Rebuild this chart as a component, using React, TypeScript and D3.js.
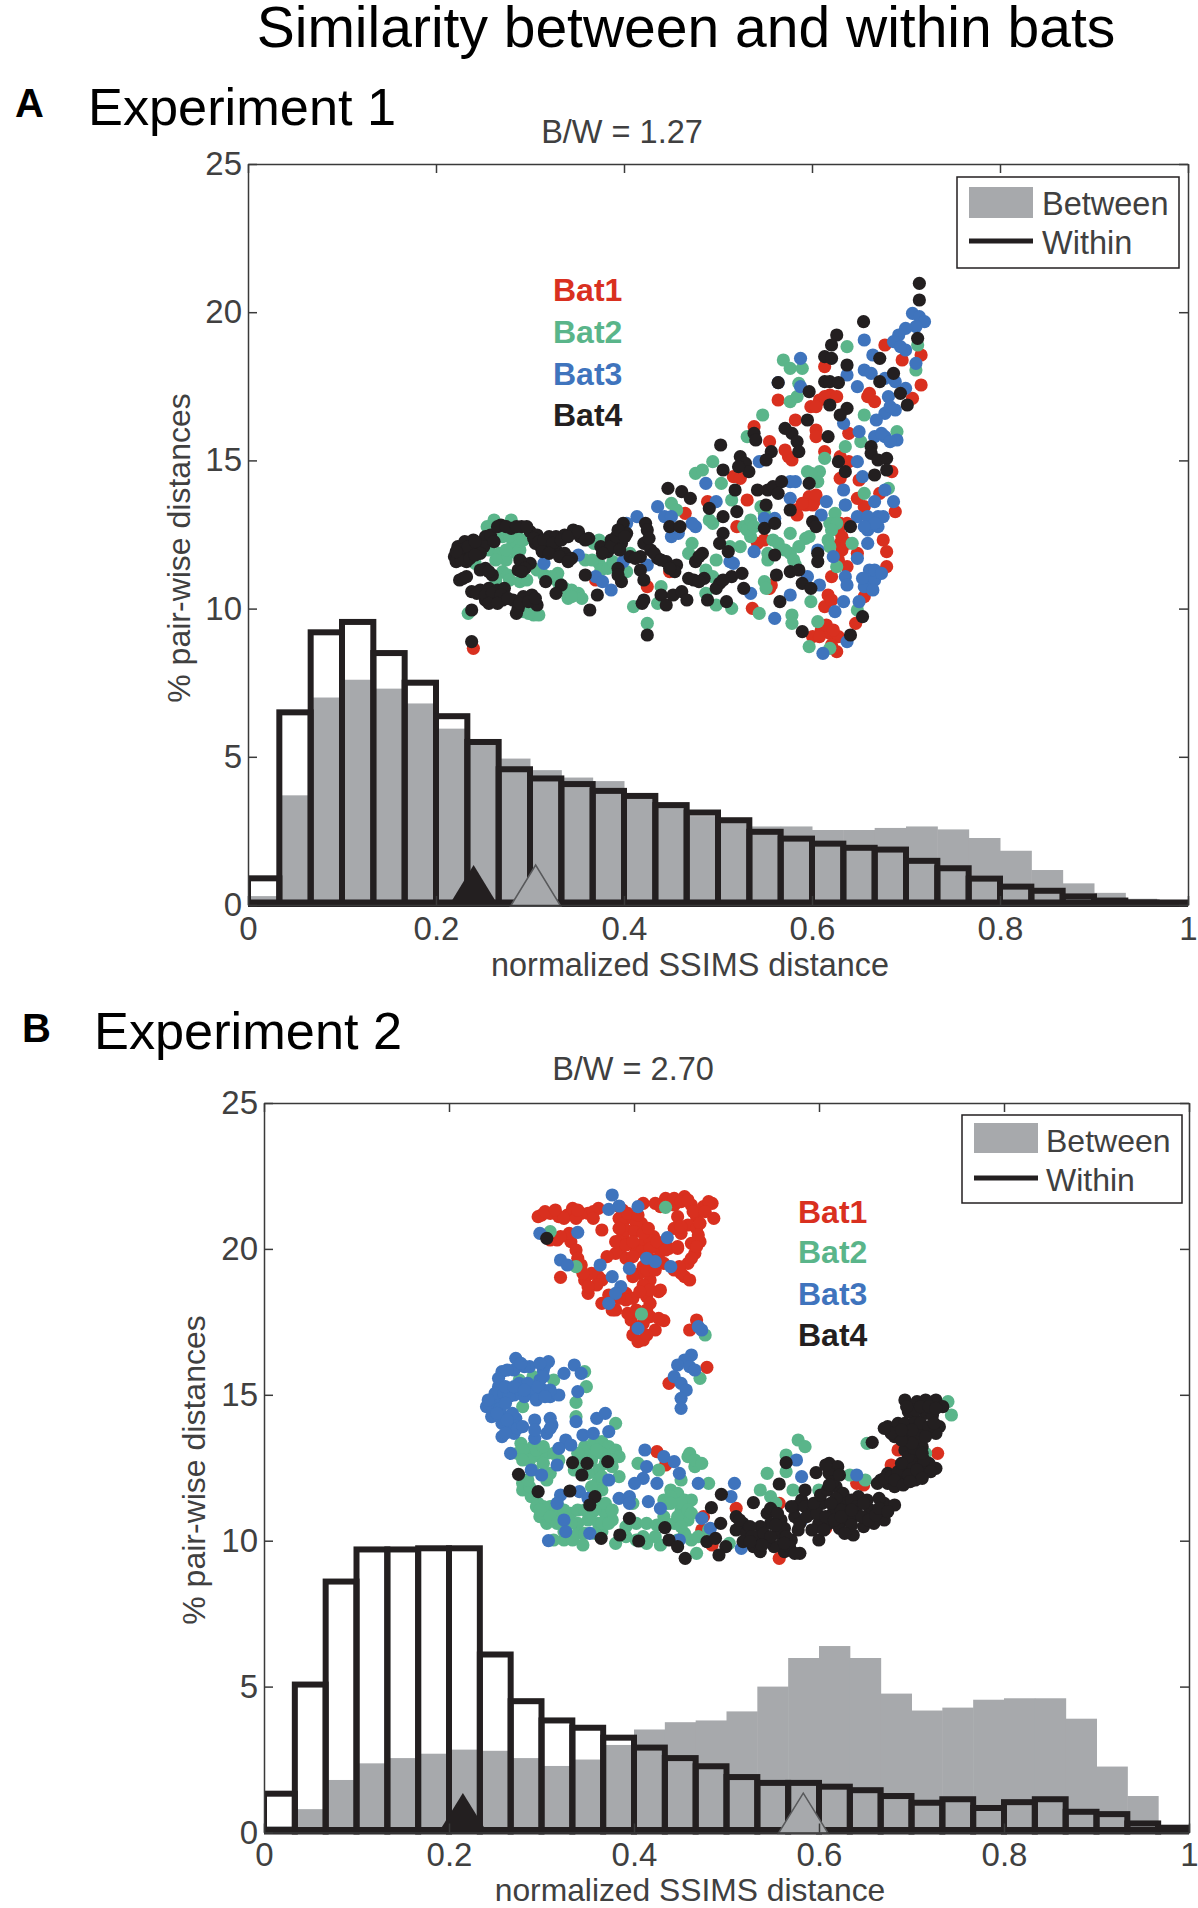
import * as d3 from "d3";
import { useEffect, useRef } from "react";

const FONT = "'Liberation Sans', Arial, sans-serif";
const batNames = ["Bat1", "Bat2", "Bat3", "Bat4"];
const batColors = ["#d9301f", "#5ab58a", "#3f74bd", "#231f20"];
const xTicks = [0, 0.2, 0.4, 0.6, 0.8, 1];
const yTicks = [0, 5, 10, 15, 20, 25];

// histogram values, 30 bins over 0..1
const withinA = [0.9, 6.5, 9.2, 9.55, 8.5, 7.5, 6.37, 5.5, 4.58, 4.27, 4.08, 3.85, 3.68, 3.37, 3.12, 2.86, 2.47, 2.24, 2.07, 1.93, 1.87, 1.49, 1.24, 0.89, 0.62, 0.48, 0.29, 0.15, 0.08, 0.04];
const betweenA = [0.3, 3.7, 7, 7.6, 7.3, 6.8, 5.95, 5.42, 4.94, 4.55, 4.3, 4.18, 3.7, 3.3, 3, 2.8, 2.65, 2.65, 2.53, 2.53, 2.6, 2.65, 2.55, 2.26, 1.83, 1.18, 0.73, 0.41, 0.21, 0.1];
const withinB = [1.33, 5.07, 8.6, 9.7, 9.7, 9.74, 9.74, 6.1, 4.5, 3.84, 3.59, 3.25, 2.91, 2.55, 2.27, 1.9, 1.7, 1.7, 1.57, 1.45, 1.25, 1.02, 1.14, 0.84, 1.04, 1.14, 0.71, 0.63, 0.31, 0.16];
const betweenB = [0.22, 0.8, 1.8, 2.37, 2.55, 2.7, 2.84, 2.8, 2.55, 2.28, 2.5, 3, 3.53, 3.78, 3.84, 4.15, 5, 5.98, 6.39, 5.98, 4.76, 4.18, 4.28, 4.55, 4.6, 4.6, 3.9, 2.26, 1.25, 0.27];

// embedding scatter, unitless coordinates
type Pt = [number, number];
const scatterA1: Pt[] = [[155,1165],[965,1045],[1015,985],[970,500],[1015,545],[1070,590],[1060,570],[1090,480],[1150,510],[1150,530],[1135,440],[1190,405],[1160,420],[1210,410],[1300,410],[1320,425],[1245,520],[1175,575],[1220,590],[1245,605],[1220,655],[1275,660],[1370,635],[1335,700],[1380,755],[1130,710],[1120,735],[1090,750],[1200,800],[1220,790],[1220,850],[1270,880],[1345,840],[1355,875],[1355,920],[1240,920],[1185,1005],[1175,1040],[1165,1110],[1190,1120],[1215,1130],[1210,1175],[1140,1130],[1265,1090],[1290,1010],[1400,300],[1455,285],[1455,375],[1430,415],[1350,255],[950,720],[1000,840],[980,850],[835,725],[770,760],[920,800],[725,935],[660,980],[910,650],[930,655],[1040,420],[1195,950],[1175,320],[1095,765],[1240,790],[1020,975],[1290,740],[1145,725],[510,960],[1215,810],[1225,830],[1270,715],[1140,735],[1150,705],[1195,1020],[1180,1095],[1160,1130],[1200,1110],[1195,1155],[1305,400],[1150,440],[1175,410],[1080,600],[1110,730],[1225,870],[1240,850],[1215,900]];
const scatterA2: Pt[] = [[215,780],[265,780],[195,800],[240,830],[270,850],[290,870],[240,935],[255,945],[140,1060],[290,965],[200,870],[330,1065],[345,1065],[315,1060],[360,945],[400,965],[430,1015],[460,1000],[470,1015],[310,960],[420,985],[520,910],[480,900],[520,840],[525,930],[545,925],[600,935],[610,880],[620,1040],[660,1090],[700,980],[690,1030],[860,1035],[905,1045],[830,1000],[800,640],[850,605],[820,630],[875,670],[995,465],[950,530],[1055,300],[1075,325],[1110,325],[1100,370],[1075,425],[1095,410],[1240,260],[1290,465],[1235,560],[1175,595],[1125,635],[1160,635],[1155,665],[1280,545],[1385,515],[1440,330],[1445,255],[1290,700],[1360,685],[730,730],[745,750],[850,790],[840,780],[790,850],[780,880],[860,900],[830,930],[850,950],[900,860],[940,800],[960,830],[950,810],[1025,840],[1075,820],[1120,835],[1185,840],[1205,760],[1190,790],[1255,850],[1075,880],[1085,900],[1040,850],[1000,965],[1005,985],[985,1060],[1080,1065],[1080,1090],[1135,1025],[1155,1085],[1130,1160],[1190,1165],[1270,1050],[1210,920],[990,740],[905,720],[1000,760],[1235,735],[930,860],[1135,640],[160,910],[230,880],[250,900],[220,900],[260,960],[220,960],[280,880],[300,1055],[250,870],[260,830],[280,820],[300,840],[400,940],[440,990],[440,1010],[380,950],[340,930],[500,900],[540,850],[505,850],[560,905],[1210,790],[1195,810],[1190,860],[1060,870],[1100,860],[1090,915],[1130,830],[960,780],[970,800],[1010,900],[1010,880]];
const scatterA3: Pt[] = [[630,770],[600,790],[690,740],[710,770],[730,770],[800,800],[790,790],[730,830],[750,820],[660,915],[590,905],[510,950],[530,965],[555,990],[460,885],[360,910],[830,670],[860,725],[900,905],[910,910],[970,875],[1000,775],[1030,775],[1075,665],[1075,715],[1090,665],[1105,295],[1105,380],[1040,368],[1290,240],[1270,380],[1290,330],[1315,285],[1310,340],[1350,355],[1360,410],[1380,365],[1410,385],[1350,460],[1380,450],[1325,480],[1320,530],[1350,530],[1385,540],[1275,515],[1270,605],[1285,650],[1350,690],[1375,725],[1320,725],[1230,690],[1180,725],[1235,735],[1270,770],[1330,770],[1310,790],[1300,810],[1300,850],[1270,895],[1165,765],[1155,870],[1200,890],[1235,950],[1310,935],[1295,955],[1320,960],[1290,980],[1315,990],[1240,975],[1275,1025],[1230,1025],[1205,1055],[1240,1145],[1170,1180],[1075,1005],[1030,1075],[1125,950],[1160,975],[960,1000],[1430,160],[1450,170],[1465,185],[1440,200],[1410,205],[1390,225],[1375,245],[1410,270],[1440,310],[1230,490],[1240,345],[985,605],[1330,800],[1345,770],[1305,930],[1320,930],[1285,955],[1340,520],[1365,545],[1395,260],[1365,440],[1300,770],[1320,790],[1290,800],[1340,940]];
const scatterA4: Pt[] = [[110,860],[130,845],[155,840],[100,890],[125,880],[150,870],[105,905],[135,905],[165,860],[190,830],[205,825],[185,860],[175,880],[235,795],[265,805],[295,800],[320,815],[340,825],[335,850],[350,860],[375,830],[395,830],[420,825],[445,810],[465,830],[490,835],[370,860],[395,870],[420,880],[440,895],[300,910],[285,930],[320,910],[190,925],[210,945],[125,955],[150,995],[175,990],[200,985],[225,990],[245,985],[190,1020],[215,1015],[240,1020],[270,1020],[300,1010],[325,1005],[340,1035],[285,1045],[280,1060],[150,1050],[150,1145],[365,965],[410,975],[395,1000],[515,1005],[493,1050],[480,945],[585,965],[575,925],[575,945],[525,860],[555,840],[545,875],[590,790],[600,820],[585,850],[610,890],[640,890],[655,790],[660,810],[650,850],[670,870],[690,895],[715,905],[745,915],[740,935],[640,930],[650,960],[725,800],[755,800],[720,685],[760,695],[785,715],[840,745],[880,770],[920,755],[915,690],[880,820],[870,850],[895,875],[820,880],[800,905],[810,890],[795,960],[825,955],[870,970],[905,950],[935,940],[860,985],[940,985],[835,1020],[890,1025],[650,1020],[645,1030],[700,1005],[715,1035],[735,1005],[760,995],[775,1020],[660,1125],[873,555],[880,630],[930,590],[945,610],[955,635],[925,620],[1010,690],[980,690],[1025,680],[1050,665],[1040,700],[1005,735],[1075,750],[1000,805],[1030,790],[1140,785],[1150,800],[1030,885],[1035,945],[1075,935],[1100,930],[1110,970],[1135,985],[1155,880],[1155,905],[1045,1025],[1110,1115],[1250,1125],[1285,1070],[1250,800],[1130,670],[1080,520],[1060,505],[1095,545],[1100,575],[970,520],[975,540],[1020,575],[1005,600],[1125,480],[1190,435],[1240,445],[1220,465],[1185,530],[1175,290],[1195,295],[1210,225],[1195,255],[1240,315],[1175,365],[1190,365],[1215,368],[1130,395],[1040,368],[1335,295],[1335,365],[1375,340],[1395,400],[1415,435],[1445,235],[1450,120],[1450,70],[1288,185],[1310,560],[1310,580],[1330,600],[1355,595],[1320,645],[1355,630],[1215,605],[1235,635],[115,870],[140,860],[120,900],[145,895],[160,885],[105,875],[160,845],[215,845],[225,800],[250,800],[280,800],[310,800],[330,835],[345,845],[360,840],[385,850],[410,840],[430,830],[460,815],[480,840],[355,875],[375,880],[405,890],[430,905],[290,900],[305,925],[295,935],[175,930],[200,935],[115,960],[135,950],[165,1000],[190,1005],[210,1000],[235,1005],[200,1030],[225,1030],[255,1015],[290,1030],[315,1025],[335,1015],[555,860],[570,830],[575,810],[595,830],[530,880],[625,895],[665,835],[680,880],[700,900],[725,925],[580,870],[780,955],[810,965],[880,960]];

const scatterB1: Pt[] = [[295,135],[320,130],[345,140],[370,135],[385,115],[410,130],[430,130],[460,115],[590,100],[530,120],[520,145],[530,160],[560,145],[585,160],[625,100],[655,85],[640,110],[680,105],[710,80],[730,105],[745,140],[765,110],[790,100],[795,145],[690,140],[720,165],[745,175],[755,215],[740,250],[720,280],[710,320],[690,235],[640,225],[620,200],[590,220],[570,160],[530,200],[525,235],[510,250],[540,265],[570,240],[610,210],[640,245],[620,270],[580,310],[560,320],[610,330],[590,345],[540,370],[560,385],[600,380],[635,365],[470,180],[340,210],[380,215],[395,240],[410,285],[420,330],[430,370],[460,320],[485,260],[470,330],[500,420],[610,400],[555,450],[560,495],[590,510],[610,440],[650,452],[625,480],[350,322],[745,450],[725,480],[775,592],[665,640],[320,210],[540,390],[700,190],[730,220],[650,280],[680,300],[985,1165],[1120,1075],[1310,885],[1330,840],[1445,850],[1230,945],[1210,940],[985,1000],[860,1015],[630,845],[655,885],[765,1040],[760,1080],[790,1125],[1170,1000],[285,140],[305,125],[335,120],[360,145],[395,145],[400,120],[445,125],[445,145],[520,110],[545,130],[575,135],[540,180],[565,185],[590,190],[605,175],[520,175],[510,215],[540,225],[560,215],[585,245],[610,235],[665,235],[630,215],[655,240],[690,230],[560,260],[590,290],[600,300],[625,300],[640,360],[610,360],[580,365],[520,385],[490,375],[510,420],[470,400],[455,345],[440,310],[400,265],[375,190],[350,200],[660,100],[680,85],[700,95],[720,90],[735,125],[755,160],[750,195],[680,175],[700,170],[745,230],[730,265],[700,310],[725,330],[695,290],[780,95],[770,125],[545,430],[570,420],[600,420],[635,445],[575,515],[600,495],[570,475],[590,460],[430,350],[415,310]];
const scatterB2: Pt[] = [[655,112],[395,290],[320,185],[585,432],[770,495],[755,625],[420,605],[330,630],[425,650],[230,630],[270,620],[395,697],[240,710],[395,740],[510,760],[235,820],[250,850],[270,830],[290,860],[310,850],[420,830],[445,820],[470,815],[490,830],[510,840],[520,860],[240,960],[265,980],[280,1010],[290,1040],[310,1060],[320,1010],[340,1000],[360,1110],[330,1110],[385,1110],[415,1125],[380,1030],[400,1060],[430,1050],[460,1000],[480,1030],[500,1050],[460,1060],[470,1085],[440,990],[460,900],[440,870],[430,910],[390,900],[330,850],[320,910],[310,930],[520,920],[540,1070],[570,1060],[600,1060],[590,1100],[510,1120],[630,1065],[640,1125],[575,880],[635,900],[670,960],[690,970],[710,990],[730,990],[650,990],[680,1060],[700,1020],[720,1050],[710,1090],[730,1110],[745,1150],[720,860],[740,890],[725,850],[700,930],[780,940],[840,1120],[1040,810],[1060,830],[950,910],[1005,855],[1005,905],[930,960],[960,980],[975,1000],[1025,960],[1100,960],[1190,915],[1240,820],[1235,930],[1475,695],[1485,735],[1410,850],[780,1080],[560,1000],[225,850],[240,840],[260,870],[280,840],[300,830],[240,870],[270,900],[240,940],[260,950],[285,1000],[300,1010],[300,1030],[330,1040],[350,1020],[400,1020],[420,1020],[440,1030],[450,1020],[470,1060],[490,1060],[400,1090],[360,1085],[430,860],[450,850],[470,850],[490,860],[500,870],[420,870],[400,850],[460,930],[470,920],[470,960],[440,950],[670,980],[700,1000],[690,1040],[700,1070],[660,1000],[720,1020],[600,1120],[570,1110],[540,1100],[730,1030],[740,870],[760,880],[255,930],[290,1020],[320,1040],[340,1060],[360,1020],[380,1060],[420,1090],[450,1090],[480,1000],[500,1020],[455,840],[480,880],[500,890],[410,880],[345,870],[300,880],[670,1000],[650,1040],[690,1110],[750,1100],[625,1100]];
const scatterB3: Pt[] = [[500,75],[520,108],[490,118],[575,110],[400,187],[290,190],[660,203],[465,285],[350,270],[370,285],[600,265],[625,275],[550,295],[670,290],[500,320],[525,350],[510,370],[490,400],[575,475],[750,470],[760,480],[730,555],[710,570],[690,585],[725,590],[680,620],[740,600],[700,640],[715,660],[700,685],[700,715],[220,565],[180,605],[215,600],[260,590],[315,575],[300,600],[290,630],[360,610],[390,585],[410,610],[400,665],[170,650],[200,660],[230,660],[260,670],[290,675],[320,680],[345,675],[135,710],[160,690],[150,740],[185,740],[220,745],[200,775],[180,800],[215,790],[275,750],[320,745],[325,765],[310,790],[275,805],[395,755],[455,745],[480,730],[415,795],[445,790],[490,785],[365,810],[345,835],[380,825],[205,850],[340,885],[265,900],[295,915],[490,930],[595,840],[650,860],[680,875],[695,910],[600,890],[590,925],[565,940],[630,940],[750,940],[855,940],[845,980],[350,975],[340,1000],[405,965],[430,985],[520,985],[550,980],[550,1000],[605,995],[640,1015],[360,1050],[365,1085],[435,1090],[315,1112],[760,1045],[785,1075],[1035,870],[1050,920],[1210,915],[695,1110],[875,1135],[1050,1050],[160,670],[185,670],[215,675],[245,680],[270,655],[300,660],[150,710],[175,715],[200,680],[230,640],[255,640],[170,625],[195,600],[245,590],[305,585],[180,760],[210,760],[225,775],[190,790],[140,690],[280,690],[320,660],[190,650],[215,650],[245,660],[285,650],[305,680],[190,700],[165,730],[210,730],[195,750],[240,770],[275,780],[320,775],[300,620],[290,580],[235,580]];
const scatterB4: Pt[] = [[310,205],[385,878],[427,880],[487,875],[412,915],[228,913],[285,965],[377,963],[450,980],[435,1005],[550,1045],[653,1073],[468,1105],[522,1095],[577,1113],[665,1110],[690,1130],[712,1165],[775,1115],[800,1105],[830,1130],[810,1155],[788,1013],[815,1060],[817,973],[910,998],[985,942],[1005,878],[1092,908],[1255,817],[860,1040],[880,1060],[860,1080],[890,1090],[880,1115],[910,1130],[930,1145],[950,1030],[960,1060],[930,1070],[920,1100],[980,1090],[990,1050],[990,1125],[1000,1145],[1020,1110],[1045,1150],[970,1130],[945,1115],[1040,1080],[1030,1010],[1050,990],[1030,1040],[1060,1010],[1060,960],[1080,1030],[1100,1060],[1080,1080],[1100,1110],[1130,880],[1155,890],[1130,910],[1150,950],[1170,970],[1145,1000],[1110,1000],[1140,1030],[1180,1000],[1180,1050],[1160,1075],[1200,1095],[1230,1070],[1260,1060],[1290,1050],[1250,1020],[1290,1000],[1320,1005],[1215,980],[1240,990],[1275,985],[1200,1040],[1130,1060],[1300,940],[1280,930],[1320,950],[1340,925],[1350,900],[1380,930],[1410,905],[1440,895],[1350,840],[1380,860],[1400,830],[1420,880],[1360,800],[1390,800],[1350,690],[1385,695],[1300,770],[1330,760],[1320,800],[1350,760],[1380,750],[1410,730],[1440,690],[1460,710],[1430,735],[1450,770],[1400,770],[1440,790],[1360,725],[1410,690],[1300,910],[1370,880],[870,1050],[900,1070],[905,1100],[940,1090],[960,1100],[960,1015],[980,1030],[1000,1075],[1005,1100],[975,1065],[935,1125],[900,1115],[1015,1130],[1030,1150],[1000,1120],[1020,1010],[1045,1060],[1065,1040],[1095,1030],[1120,1040],[1115,1080],[1085,1000],[1105,975],[1125,960],[1150,985],[1165,1020],[1195,990],[1210,1010],[1225,1040],[1245,1050],[1265,1035],[1275,1015],[1300,1025],[1230,1000],[1195,1065],[1175,1090],[1145,1050],[1165,1040],[1195,1020],[1135,1000],[1120,885],[1140,935],[1160,915],[1130,945],[1270,940],[1290,925],[1310,920],[1330,905],[1320,930],[1345,945],[1360,915],[1395,890],[1360,860],[1340,880],[1375,835],[1405,870],[1370,820],[1340,810],[1395,760],[1420,770],[1370,780],[1310,790],[1290,775],[1340,780],[1380,720],[1395,710],[1420,710],[1440,715],[1435,760],[1355,710],[1410,800],[1400,850],[1425,905],[1385,900],[1400,925],[1365,935]];

// mean markers on the x axis
const meansA = { within: 0.24, between: 0.306 };
const meansB = { within: 0.215, between: 0.583 };

const panels = [
  {
    letter: "A", name: "Experiment 1", ratio: "B/W = 1.27",
    within: withinA, between: betweenA, means: meansA,
    scatter: [scatterA1, scatterA2, scatterA3, scatterA4],
    plot: { left: 248, right: 1188, top: 164, bottom: 905 },
    scatterBox: { x: [420, 960], y: [260, 680] },
    letterPos: [15, 117], namePos: [88, 125], ratioPos: [622, 143],
    legend: { x: 957, y: 177, w: 222, h: 91, swatchY: 187, swatchH: 31, lineY: 241, textX: 1042, textY: [215, 254], textSize: 32.5 },
    labels: { x: 553, y: [301, 343, 385, 426] },
    xLabelPos: [690, 976], xLabelSize: 32.4, xTickPad: 12, yLabelPos: [190, 548],
  },
  {
    letter: "B", name: "Experiment 2", ratio: "B/W = 2.70",
    within: withinB, between: betweenB, means: meansB,
    scatter: [scatterB1, scatterB2, scatterB3, scatterB4],
    plot: { left: 264, right: 1189, top: 1103, bottom: 1832.5 },
    scatterBox: { x: [440, 980], y: [1170, 1590] },
    letterPos: [22, 1042], namePos: [94, 1049], ratioPos: [633, 1080],
    legend: { x: 962, y: 1115, w: 220, h: 88, swatchY: 1123, swatchH: 30, lineY: 1178, textX: 1046, textY: [1152, 1191], textSize: 32 },
    labels: { x: 798, y: [1223, 1263, 1305, 1346] },
    xLabelPos: [690, 1901], xLabelSize: 31.8, xTickPad: 10, yLabelPos: [205, 1470],
  },
];

export default function App() {
  const ref = useRef<SVGSVGElement | null>(null);

  useEffect(() => {
    if (!ref.current) return;
    const svg = d3.select(ref.current);
    svg.selectAll("*").remove();
    svg.style("font-family", FONT);

    svg.append("text").attr("x", 686).attr("y", 47).attr("text-anchor", "middle")
      .style("font-size", "57px").attr("fill", "#000").text("Similarity between and within bats");

    panels.forEach((p, pi) => {
      const g = svg.append("g");
      const x = d3.scaleLinear().domain([0, 1]).range([p.plot.left, p.plot.right]);
      const y = d3.scaleLinear().domain([0, 25]).range([p.plot.bottom, p.plot.top]);
      const binW = 1 / p.between.length;

      // keeps the thick bar outlines inside the frame
      const clipId = `plot-clip-${pi}`;
      svg.append("clipPath").attr("id", clipId).append("rect")
        .attr("x", p.plot.left).attr("y", p.plot.top)
        .attr("width", p.plot.right - p.plot.left).attr("height", p.plot.bottom - p.plot.top + 2);

      g.append("text").attr("x", p.letterPos[0]).attr("y", p.letterPos[1])
        .style("font-size", "40px").style("font-weight", "bold").text(p.letter);
      g.append("text").attr("x", p.namePos[0]).attr("y", p.namePos[1])
        .style("font-size", "52.3px").text(p.name);
      g.append("text").attr("x", p.ratioPos[0]).attr("y", p.ratioPos[1]).attr("text-anchor", "middle")
        .style("font-size", "32.5px").attr("fill", "#404040").text(p.ratio);

      // between bars
      g.append("g").selectAll("rect").data(p.between).enter().append("rect")
        .attr("x", (_, i) => x(i * binW))
        .attr("y", (d) => y(d))
        .attr("width", x(binW) - x(0) + 0.5)
        .attr("height", (d) => y(0) - y(d))
        .attr("fill", "#a7a9ac");

      // within bars
      g.append("g").attr("clip-path", `url(#${clipId})`).selectAll("rect").data(p.within).enter().append("rect")
        .attr("x", (_, i) => x(i * binW))
        .attr("y", (d) => y(d))
        .attr("width", x(binW) - x(0))
        .attr("height", (d) => y(0) - y(d))
        .attr("fill", "none")
        .attr("stroke", "#231f20")
        .attr("stroke-width", 6);

      g.append("line").attr("x1", x(0)).attr("x2", x(1)).attr("y1", y(0) - 2).attr("y2", y(0) - 2)
        .attr("stroke", "#231f20").attr("stroke-width", 7);

      // mean markers
      const tri = (m: number): [number, number][] => [
        [x(m) - 25, y(0) + 1], [x(m), y(1.35)], [x(m) + 25, y(0) + 1],
      ];
      const line = d3.line();
      g.append("path").attr("d", line(tri(p.means.within)) + "Z").attr("fill", "#231f20");
      g.append("path").attr("d", line(tri(p.means.between)) + "Z")
        .attr("fill", "#a7a9ac").attr("stroke", "#58595b").attr("stroke-width", 1.5);

      // axes box with inward ticks
      const tickColor = "#3a3a3a";
      const addAxis = (axis: d3.Axis<d3.NumberValue>, tx: number, ty: number, labels: boolean) => {
        const a = g.append("g").attr("transform", `translate(${tx},${ty})`).call(axis);
        a.selectAll("path,line").attr("stroke", tickColor).attr("stroke-width", 1.5);
        a.selectAll("text").attr("fill", "#404040").style("font-size", "33px").style("font-family", FONT);
        if (!labels) a.selectAll("text").remove();
        return a;
      };
      addAxis(d3.axisBottom(x).tickValues(xTicks).tickSize(-9).tickSizeOuter(0).tickPadding(p.xTickPad).tickFormat((d) => String(d)), 0, p.plot.bottom, true);
      addAxis(d3.axisTop(x).tickValues(xTicks).tickSize(-9).tickSizeOuter(0), 0, p.plot.top, false);
      addAxis(d3.axisLeft(y).tickValues(yTicks).tickSize(-9).tickSizeOuter(0).tickPadding(6).tickFormat((d) => String(d)), p.plot.left, 0, true);
      addAxis(d3.axisRight(y).tickValues(yTicks).tickSize(-9).tickSizeOuter(0), p.plot.right, 0, false);

      g.append("text").attr("x", p.xLabelPos[0]).attr("y", p.xLabelPos[1]).attr("text-anchor", "middle")
        .style("font-size", `${p.xLabelSize}px`).attr("fill", "#404040").text("normalized SSIMS distance");
      g.append("text").attr("transform", `translate(${p.yLabelPos[0]},${p.yLabelPos[1]}) rotate(-90)`)
        .attr("text-anchor", "middle").style("font-size", "32px").attr("fill", "#404040")
        .text("% pair-wise distances");

      // legend
      const L = p.legend;
      g.append("rect").attr("x", L.x).attr("y", L.y).attr("width", L.w).attr("height", L.h)
        .attr("fill", "#fff").attr("stroke", "#231f20").attr("stroke-width", 1.5);
      g.append("rect").attr("x", L.x + 12).attr("y", L.swatchY).attr("width", 64).attr("height", L.swatchH).attr("fill", "#a7a9ac");
      g.append("line").attr("x1", L.x + 12).attr("x2", L.x + 76).attr("y1", L.lineY).attr("y2", L.lineY)
        .attr("stroke", "#231f20").attr("stroke-width", 5);
      ["Between", "Within"].forEach((t, i) => {
        g.append("text").attr("x", L.textX).attr("y", L.textY[i]).style("font-size", `${L.textSize}px`).attr("fill", "#404040").text(t);
      });

      // scatter inset, red first and black on top
      const sx = d3.scaleLinear().domain([0, 1568]).range(p.scatterBox.x);
      const sy = d3.scaleLinear().domain([0, 1260]).range(p.scatterBox.y);
      p.scatter.forEach((pts, b) => {
        g.append("g").selectAll("circle").data(pts).enter().append("circle")
          .attr("cx", (d) => sx(d[0]))
          .attr("cy", (d) => sy(d[1]))
          .attr("r", 6.6)
          .attr("fill", batColors[b]);
      });

      batNames.forEach((t, i) => {
        g.append("text").attr("x", p.labels.x).attr("y", p.labels.y[i])
          .style("font-size", "32px").style("font-weight", "bold").attr("fill", batColors[i]).text(t);
      });
    });
  }, []);

  return <svg ref={ref} width={1198} height={1908} style={{ position: "absolute", left: 0, top: 0, background: "#fff" }} />;
}
